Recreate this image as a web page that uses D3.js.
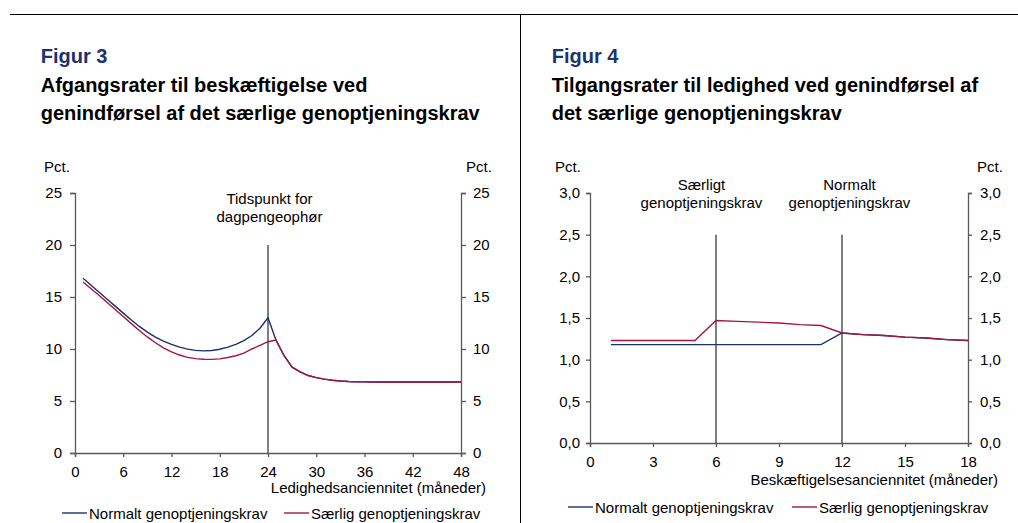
<!DOCTYPE html>
<html>
<head>
<meta charset="utf-8">
<script src="https://cdn.jsdelivr.net/npm/d3@7"></script>
<style>
  body { margin: 0; background: #fff; }
  svg { display: block; font-family: Arial, "Liberation Sans", sans-serif; }
  .axis path, .axis line { stroke: #595959; }
  .axis text { font-size: 15px; fill: #000; font-family: Arial, "Liberation Sans", sans-serif; }
</style>
</head>
<body>
<div id="chart"></div>
<script>
// --- data, figur 3 (ledighedsanciennitet, måneder 1-48)
const months3 = d3.range(1, 49);
const normalt3 = [16.8, 16.13, 15.46, 14.79, 14.12, 13.45, 12.79, 12.17, 11.62, 11.15, 10.76, 10.44,
  10.18, 9.99, 9.87, 9.82, 9.86, 9.98, 10.18, 10.45, 10.8, 11.3, 12.0, 13.0,
  10.85, 9.35, 8.25, 7.8, 7.45, 7.25, 7.1, 7.0, 6.93, 6.88, 6.85, 6.84,
  6.83, 6.83, 6.83, 6.83, 6.83, 6.83, 6.83, 6.83, 6.83, 6.83, 6.83, 6.83];
const saerlig3 = [16.45, 15.8, 15.14, 14.48, 13.8, 13.12, 12.44, 11.78, 11.16, 10.6, 10.11, 9.72,
  9.42, 9.2, 9.07, 9.01, 9.0, 9.05, 9.18, 9.35, 9.6, 10.0, 10.35, 10.7,
  10.85, 9.35, 8.25, 7.8, 7.45, 7.25, 7.1, 7.0, 6.93, 6.88, 6.85, 6.84,
  6.83, 6.83, 6.83, 6.83, 6.83, 6.83, 6.83, 6.83, 6.83, 6.83, 6.83, 6.83];
const xTicks3 = [0, 6, 12, 18, 24, 30, 36, 42, 48];
const yTicks3 = [0, 5, 10, 15, 20, 25];
const marker3 = 24;

// --- data, figur 4 (beskæftigelsesanciennitet, måneder 1-18)
const months4 = d3.range(1, 19);
const normalt4 = [1.18, 1.18, 1.18, 1.18, 1.18, 1.18, 1.18, 1.18, 1.18, 1.18, 1.18,
  1.32, 1.30, 1.29, 1.27, 1.26, 1.24, 1.23];
const saerlig4 = [1.23, 1.23, 1.23, 1.23, 1.23, 1.47, 1.46, 1.45, 1.44, 1.42, 1.41,
  1.32, 1.30, 1.29, 1.27, 1.26, 1.24, 1.23];
const xTicks4 = [0, 3, 6, 9, 12, 15, 18];
const yTicks4 = [0, 0.5, 1, 1.5, 2, 2.5, 3];
const markers4 = [6, 12];

const seriesNames = ["Normalt genoptjeningskrav", "Særlig genoptjeningskrav"];
const colors = ["#1a2f6e", "#a3173f"];

const width = 1018, height = 523;
const svg = d3.select("#chart").append("svg")
  .attr("width", width)
  .attr("height", height);

// frame lines
svg.append("line").attr("x1", 10).attr("x2", width).attr("y1", 14.5).attr("y2", 14.5)
  .attr("stroke", "#000").attr("stroke-width", 1);
svg.append("line").attr("x1", 520.5).attr("x2", 520.5).attr("y1", 14).attr("y2", height)
  .attr("stroke", "#000").attr("stroke-width", 1);

const comma = d3.formatLocale({decimal: ",", thousands: ".", grouping: [3], currency: ["", " kr."]});

function drawTitle(x, fig, lines) {
  svg.append("text").attr("x", x).attr("y", 63)
    .attr("font-size", 20).attr("font-weight", "bold").attr("fill", "#1b3370")
    .text(fig);
  lines.forEach((l, i) => {
    svg.append("text").attr("x", x).attr("y", 91.5 + i * 28.3)
      .attr("font-size", 20).attr("font-weight", "bold").attr("fill", "#000")
      .text(l);
  });
}

function drawChart(cfg) {
  const x = d3.scaleLinear().domain(cfg.xDomain).range([cfg.left, cfg.right]);
  const y = d3.scaleLinear().domain(cfg.yDomain).range([cfg.bottom, cfg.top]);

  // y axes left and right
  svg.append("g").attr("class", "axis")
    .attr("transform", `translate(${cfg.left},0)`)
    .call(d3.axisLeft(y).tickValues(cfg.yTicks).tickFormat(cfg.fmt).tickSizeOuter(0)
      .tickSize(cfg.ytick).tickPadding(cfg.ypadL));
  svg.append("g").attr("class", "axis")
    .attr("transform", `translate(${cfg.right},0)`)
    .call(d3.axisRight(y).tickValues(cfg.yTicks).tickFormat(cfg.fmt).tickSizeOuter(0)
      .tickSize(cfg.ytick).tickPadding(cfg.ypadR));

  // marker lines
  cfg.markers.forEach(m => {
    svg.append("line")
      .attr("x1", x(m)).attr("x2", x(m))
      .attr("y1", y(cfg.markerTop)).attr("y2", y(0))
      .attr("stroke", "#3a3a3a").attr("stroke-width", 1.3);
  });

  // x axis
  svg.append("g").attr("class", "axis")
    .attr("transform", `translate(0,${cfg.bottom})`)
    .call(d3.axisBottom(x).tickValues(cfg.xTicks).tickSizeOuter(0).tickSize(4).tickPadding(9));

  svg.selectAll(".axis path, .axis line").attr("stroke-width", 1.3);

  // series
  const line = d3.line().x(d => x(d[0])).y(d => y(d[1]));
  cfg.series.forEach((s, i) => {
    svg.append("path")
      .datum(cfg.months.map((m, j) => [m, s[j]]))
      .attr("fill", "none")
      .attr("stroke", colors[i])
      .attr("stroke-width", 1.4)
      .attr("d", line);
  });

  // Pct. labels
  svg.append("text").attr("x", cfg.pctL).attr("y", 172).attr("font-size", 15).text("Pct.");
  svg.append("text").attr("x", cfg.pctR).attr("y", 172).attr("font-size", 15).text("Pct.");

  // x axis title
  svg.append("text").attr("x", cfg.xTitleX).attr("y", cfg.xTitleY)
    .attr("text-anchor", "end").attr("font-size", 15).text(cfg.xTitle);

  // annotations
  cfg.notes.forEach(n => {
    n.lines.forEach((l, i) => {
      svg.append("text").attr("x", n.x).attr("y", n.y + i * 18)
        .attr("text-anchor", "middle").attr("font-size", 15).text(l);
    });
  });

  // legend
  cfg.legend.forEach((lx, i) => {
    svg.append("line").attr("x1", lx).attr("x2", lx + 25)
      .attr("y1", cfg.legendY).attr("y2", cfg.legendY)
      .attr("stroke", colors[i]).attr("stroke-width", 1.4);
    svg.append("text").attr("x", lx + 27).attr("y", cfg.legendY + 5.5)
      .attr("font-size", 15).text(seriesNames[i]);
  });
}

drawTitle(40.7, "Figur 3", ["Afgangsrater til beskæftigelse ved", "genindførsel af det særlige genoptjeningskrav"]);
drawTitle(551.7, "Figur 4", ["Tilgangsrater til ledighed ved genindførsel af", "det særlige genoptjeningskrav"]);

drawChart({
  xDomain: [0, 48], yDomain: [0, 25],
  left: 75, right: 461, top: 193, bottom: 453,
  xTicks: xTicks3, yTicks: yTicks3, fmt: d3.format("d"),
  ytick: 5, ypadL: 8, ypadR: 7,
  markers: [marker3], markerTop: 20,
  months: months3, series: [normalt3, saerlig3],
  pctL: 44, pctR: 466,
  xTitle: "Ledighedsanciennitet (måneder)", xTitleX: 486, xTitleY: 493,
  notes: [{x: 269.5, y: 204, lines: ["Tidspunkt for", "dagpengeophør"]}],
  legend: [62, 284], legendY: 513
});

drawChart({
  xDomain: [0, 18], yDomain: [0, 3],
  left: 590, right: 968, top: 193, bottom: 443,
  xTicks: xTicks4, yTicks: yTicks4, fmt: comma.format(".1f"),
  ytick: 4, ypadL: 6, ypadR: 8,
  markers: markers4, markerTop: 2.5,
  months: months4, series: [normalt4, saerlig4],
  pctL: 555, pctR: 977,
  xTitle: "Beskæftigelsesanciennitet (måneder)", xTitleX: 998, xTitleY: 485,
  notes: [{x: 701.5, y: 189.5, lines: ["Særligt", "genoptjeningskrav"]},
          {x: 849.5, y: 189.5, lines: ["Normalt", "genoptjeningskrav"]}],
  legend: [568, 792], legendY: 507
});
</script>
</body>
</html>
